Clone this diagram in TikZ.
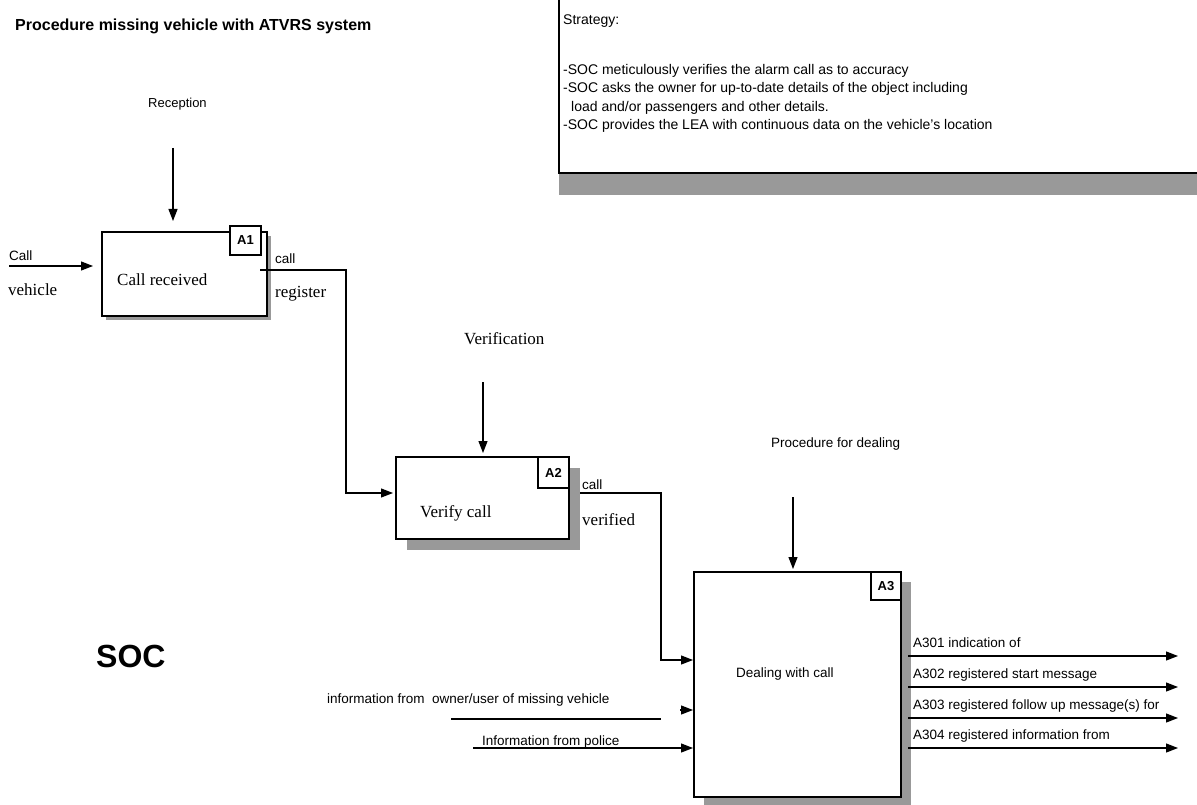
\documentclass[tikz,border=0pt]{standalone}
\usepackage{fontspec}
\setmainfont{Liberation Serif}
\setsansfont{Liberation Sans}
\usetikzlibrary{arrows.meta,shadows}
\definecolor{shadowgray}{HTML}{999999}
\begin{document}
\begin{tikzpicture}[x=1pt,y=-1pt,
  arr/.style={line width=1.2pt,-{Triangle[length=12pt,width=9pt]}},
  ln/.style={line width=1.2pt},
  box/.style={draw,line width=1.4pt,fill=white,inner sep=0},
  shad/.style={drop shadow={shadow xshift=#1,shadow yshift=-#1,fill=shadowgray,opacity=1}},
  tag/.style={draw,line width=1.4pt,fill=white,inner sep=0,font=\sffamily\bfseries\fontsize{13}{15}\selectfont},
  sl/.style={font=\sffamily\fontsize{13.5}{16}\selectfont,anchor=base west,inner sep=0},
  rl/.style={font=\rmfamily\fontsize{17}{20}\selectfont,anchor=base west,inner sep=0},
  st/.style={font=\sffamily\fontsize{14}{17}\selectfont,anchor=base west,inner sep=0},
]
\useasboundingbox (0,0) rectangle (1197,805);

% title
\node[anchor=base west,inner sep=0,font=\sffamily\bfseries\fontsize{16}{19}\selectfont] (title) at (15,31) {Procedure missing vehicle with ATVRS system};

% strategy block
\fill[shadowgray] (559,174) rectangle (1197,195);
\draw[line width=1.4pt] (559,-2) -- (559,173) -- (1199,173);
\node[st] (s0) at (563,25) {Strategy:};
\node[st] (s1) at (563,75) {-SOC meticulously verifies the alarm call as to accuracy};
\node[st] (s2) at (563,93) {-SOC asks the owner for up-to-date details of the object including};
\node[st] (s3) at (571,112) {load and/or passengers and other details.};
\node[st] (s4) at (563,130) {-SOC provides the LEA with continuous data on the vehicle’s location};

% boxes
\node[box,shad=4pt,minimum width=165pt,minimum height=84pt] (b1) at (184.5,274) {};
\node[tag,minimum width=31pt,minimum height=29pt] (t1) at (245.5,240.5) {A1};
\node[box,shad=11pt,minimum width=173pt,minimum height=82pt] (b2) at (482.5,498) {};
\node[tag,minimum width=31pt,minimum height=31pt] (t2) at (553.5,472.5) {A2};
\node[box,shad=10pt,minimum width=207pt,minimum height=225pt] (b3) at (797.5,684.5) {};
\node[tag,minimum width=30pt,minimum height=28pt] (t3) at (886,586) {A3};

% box texts
\node[rl] (l1) at (117,285) {Call received};
\node[rl] (l2) at (420,517) {Verify call};
\node[sl] (l3) at (736,677) {Dealing with call};

% controls
\node[anchor=base west,inner sep=0,font=\sffamily\fontsize{13}{15}\selectfont] (rec) at (148,108) {Reception};
\node[rl] (ver) at (464,344) {Verification};
\node[sl] (proc) at (771,447) {Procedure for dealing};
\coordinate (c1a) at (173,148); \coordinate (c1b) at (173,221);
\coordinate (c2a) at (483,382); \coordinate (c2b) at (483,453);
\coordinate (c3a) at (793,497); \coordinate (c3b) at (793,569);
\draw[arr] (c1a) -- (c1b);
\draw[arr] (c2a) -- (c2b);
\draw[arr] (c3a) -- (c3b);

% input to A1
\coordinate (i1) at (9,266); \coordinate (i1e) at (93,266);
\draw[arr] (i1) -- (i1e);
\node[sl] (callin) at (9,261) {Call};
\node[rl] (veh) at (8,295) {vehicle};

% A1 -> A2
\coordinate (o1) at (260,270);
\coordinate (b2in) at (393,493);
\draw[arr] (o1) -| (346,380) |- (b2in);
\node[sl] (call1) at (275,263) {call};
\node[rl] (reg) at (275,298) {register};

% A2 -> A3
\coordinate (o2) at (580,493);
\coordinate (b3in) at (693,660);
\draw[arr] (o2) -| (661,580) |- (b3in);
\node[sl] (call2) at (582,489) {call};
\node[rl] (verif) at (582,525) {verified};

% other inputs to A3
\node[sl] (own) at (327,703) {information from \ owner/user of missing vehicle};
\coordinate (owa) at (451,719); \coordinate (owb) at (661,719);
\draw[ln] (owa) -- (owb);
\coordinate (oha) at (680,710); \coordinate (ohb) at (693,710);
\draw[arr] (oha) -- (ohb);
\node[sl] (pol) at (482,745) {Information from police};
\coordinate (pa) at (473,748); \coordinate (pb) at (693,748);
\draw[arr] (pa) -- (pb);

% outputs of A3
\foreach \n/\y/\t in {1/656/{A301 indication of},2/687/{A302 registered start message},3/718/{A303 registered follow up message(s) for},4/748/{A304 registered information from}}{
  \coordinate (oa\n) at (908,\y);
  \coordinate (ob\n) at (1178,\y);
  \draw[arr] (oa\n) -- (ob\n);
  \node[sl] (ol\n) at (913,\y-9) {\t};
}

% SOC
\node[anchor=base west,inner sep=0,font=\sffamily\bfseries\fontsize{32}{36}\selectfont] (soc) at (96,667) {SOC};
\end{tikzpicture}
\end{document}
